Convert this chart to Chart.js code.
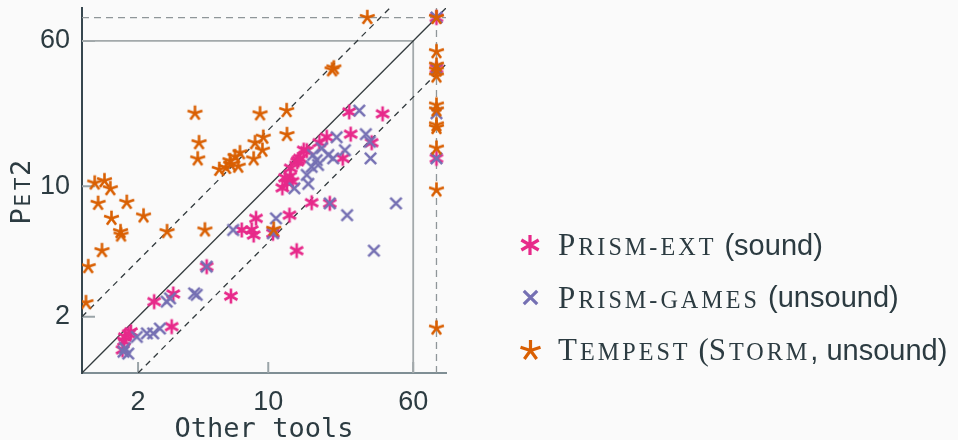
<!DOCTYPE html>
<html>
<head>
<meta charset="utf-8">
<script src="https://cdn.jsdelivr.net/npm/chart.js@4.4.0/dist/chart.umd.min.js"></script>
<style>
    html, body { margin: 0; padding: 0; background: #fafafa; }
    #wrap { position: relative; width: 958px; height: 440px; }
    #legend { position: absolute; left: 518px; top: 219px; color: #2c3b41; }
    .row { display: flex; align-items: center; height: 52.5px; white-space: nowrap; }
    .icon { width: 24px; display: flex; justify-content: center; margin-right: 16px; }
    .sc { font-family: "Liberation Serif", serif; font-size: 31px; letter-spacing: 3px; }
    .sc small { font-size: 0.78em; }
    .rm { font-family: "Liberation Serif", serif; font-size: 31px; }
    .sans { font-family: "Liberation Sans", sans-serif; font-size: 29px; }
</style>
</head>
<body>
<div id="wrap">
    <canvas id="scatter"></canvas>
    <div id="legend">
        <div class="row"><span class="icon" id="icon0"></span><span class="sc">P<small>RISM-EXT</small></span><span class="sans">&nbsp;(sound)</span></div>
        <div class="row"><span class="icon" id="icon1"></span><span class="sc">P<small>RISM-GAMES</small></span><span class="sans">&nbsp;(unsound)</span></div>
        <div class="row"><span class="icon" id="icon2"></span><span class="sc">T<small>EMPEST</small></span><span class="rm">&nbsp;(</span><span class="sc">S<small>TORM</small></span><span class="sans">, unsound)</span></div>
    </div>
</div>
<script>
// seconds, log-log; 80 = timeout
const axisMin = 1;
const axisMax = 90;
const tickValues = [2, 10, 60];
const tickLabels = ['2', '10', '60'];

const prismExtX = [27.2, 41.1, 27.7, 35.9, 20.6, 18.8, 16.1, 25.1, 11.9, 13.5, 13.2, 14.5, 12.6, 13.1, 14.3, 14.8, 15.5, 12.3, 17.1, 21.4, 13.0, 8.6, 14.2, 7.2, 8.35, 8.15, 10.6, 4.67, 6.3, 2.44, 3.09, 3.03, 1.70, 1.83, 1.65, 1.78, 1.68, 80, 80, 80];
const prismExtY = [25.0, 24.4, 19.0, 17.1, 18.3, 17.1, 15.5, 14.1, 9.8, 10.6, 12.5, 13.8, 10.4, 11.3, 13.5, 14.1, 15.6, 11.1, 8.16, 8.1, 7.0, 6.73, 4.52, 5.83, 5.48, 5.83, 5.6, 3.71, 2.58, 2.41, 2.65, 1.77, 1.56, 1.66, 1.33, 1.62, 1.48, 80, 42.7, 14.1];

const prismGamesX = [30.8, 33.4, 35.1, 35.4, 48.5, 26.5, 36.9, 23.3, 25.8, 22.3, 19.4, 17.4, 18.2, 17.1, 16.1, 16.4, 13.8, 21.0, 21.4, 11.0, 10.6, 6.48, 4.67, 4.13, 4.0, 2.85, 2.97, 2.23, 2.41, 2.62, 1.97, 1.70, 1.77, 1.67, 18.5, 80, 80, 80, 80];
const prismGamesY = [25.4, 19.0, 17.3, 14.1, 8.1, 7.0, 4.52, 18.3, 15.6, 14.1, 16.0, 14.7, 13.8, 12.7, 11.5, 10.3, 9.75, 14.7, 8.1, 6.73, 5.6, 5.83, 3.71, 2.62, 2.67, 2.41, 2.51, 1.63, 1.63, 1.73, 1.56, 1.36, 1.27, 1.30, 13.0, 80, 42.7, 24.6, 14.1];

const tempestX = [34, 22, 22.5, 4.04, 9.03, 12.55, 12.6, 4.25, 4.18, 8.49, 9.4, 9.3, 8.35, 5.46, 5.93, 6.28, 6.23, 6.63, 7.05, 6.9, 1.17, 1.32, 1.42, 1.22, 1.74, 1.44, 2.14, 1.61, 1.62, 2.86, 1.28, 1.08, 1.05, 4.57, 10.7, 80, 80, 80, 80, 80, 80, 80, 80, 80, 80, 80, 80];
const tempestY = [80, 42, 43, 24.6, 24.4, 25.4, 18.9, 17.1, 14.0, 17.1, 18.3, 15.6, 14.0, 12.3, 12.6, 13.1, 13.7, 14.4, 15.1, 12.8, 10.4, 10.7, 9.7, 8.1, 8.2, 6.73, 6.93, 5.71, 5.48, 5.71, 4.52, 3.71, 2.38, 5.83, 5.88, 80, 52.5, 44.5, 41.9, 38.9, 27.2, 25.6, 21.3, 20.6, 16.0, 9.55, 1.74];

// guide lines: y = x, y = 2x, y = x/2, 60s box, timeout
const diagX = [1, 90], diagY = [1, 90];
const upperX = [1, 45], upperY = [2, 90];
const lowerX = [2, 90], lowerY = [1, 45];
const boxX = [1, 60, 60], boxY = [60, 60, 1];
const toHX = [1, 90], toHY = [80, 80];
const toVX = [80, 80], toVY = [1, 90];

const textColor = '#2c3b41';
const pink = '#e7298a', purple = '#7570b3', orange = '#d95f02';

const pts = (xs, ys) => xs.map((x, i) => ({ x: x, y: ys[i] }));

function marker(kind, color, r, lw) {
    const size = Math.ceil(2 * r + lw + 2);
    const c = document.createElement('canvas');
    c.width = c.height = size;
    const g = c.getContext('2d');
    g.strokeStyle = color;
    g.lineWidth = lw;
    g.translate(size / 2, size / 2);
    g.beginPath();
    if (kind === 'asterisk') {
        [90, 30, 150].forEach(a => {
            const t = a * Math.PI / 180;
            g.moveTo(r * Math.cos(t), -r * Math.sin(t));
            g.lineTo(-r * Math.cos(t), r * Math.sin(t));
        });
    } else if (kind === 'cross') {
        [45, 135].forEach(a => {
            const t = a * Math.PI / 180;
            g.moveTo(r * Math.cos(t), -r * Math.sin(t));
            g.lineTo(-r * Math.cos(t), r * Math.sin(t));
        });
    } else {
        for (let k = 0; k < 5; k++) {
            const t = (-90 + 72 * k) * Math.PI / 180;
            g.moveTo(0, 0);
            g.lineTo(r * Math.cos(t), r * Math.sin(t));
        }
    }
    g.stroke();
    return c;
}

document.getElementById('icon0').appendChild(marker('asterisk', pink, 10, 3.2));
document.getElementById('icon1').appendChild(marker('cross', purple, 9.5, 3.2));
document.getElementById('icon2').appendChild(marker('star', orange, 10.5, 3.2));

function guide(xs, ys, color, width, dash, order) {
    return {
        type: 'line', data: pts(xs, ys), showLine: true, pointRadius: 0,
        borderColor: color, borderWidth: width, borderDash: dash, fill: false, order: order
    };
}

const extras = {
    id: 'extras',
    beforeDatasetsDraw(chart) {
        const { ctx, chartArea, scales } = chart;
        ctx.save();
        ctx.strokeStyle = '#9aa4a8';
        ctx.lineWidth = 2;
        tickValues.forEach(v => {
            const px = scales.x.getPixelForValue(v);
            const py = scales.y.getPixelForValue(v);
            ctx.beginPath();
            ctx.moveTo(px, chartArea.bottom);
            ctx.lineTo(px, chartArea.bottom - 11);
            ctx.moveTo(chartArea.left, py);
            ctx.lineTo(chartArea.left + 13, py);
            ctx.stroke();
        });
        ctx.restore();
    },
    afterDraw(chart) {
        const { ctx, chartArea } = chart;
        ctx.save();
        ctx.fillStyle = textColor;
        ctx.textBaseline = 'alphabetic';
        ctx.textAlign = 'center';
        ctx.font = '27px "DejaVu Sans Mono"';
        ctx.fillText('Other tools', (chartArea.left + chartArea.right) / 2, 437);

        // Pet2 in typewriter small caps
        ctx.translate(30, (chartArea.top + chartArea.bottom) / 2 + 2);
        ctx.rotate(-Math.PI / 2);
        ctx.textAlign = 'left';
        const chars = [['P', 27], ['E', 21], ['T', 21], ['2', 27]];
        let x = -32;
        chars.forEach(([ch, size]) => {
            ctx.font = size + 'px "DejaVu Sans Mono"';
            const w = ctx.measureText(ch).width;
            ctx.fillText(ch, x + (16.2 - w) / 2, 0);
            x += 16.2;
        });
        ctx.restore();
    }
};

const ctx = document.getElementById('scatter').getContext('2d');
new Chart(ctx, {
    type: 'scatter',
    data: {
        datasets: [
            { label: 'Prism-ext (sound)', data: pts(prismExtX, prismExtY), pointStyle: marker('asterisk', pink, 7.5, 2.6), order: 3 },
            { label: 'Prism-games (unsound)', data: pts(prismGamesX, prismGamesY), pointStyle: marker('cross', purple, 8, 2.5), order: 2 },
            { label: 'Tempest (Storm, unsound)', data: pts(tempestX, tempestY), pointStyle: marker('star', orange, 7.8, 2.6), order: 1 },
            guide(diagX, diagY, '#333b3e', 1.3, [], 10),
            guide(upperX, upperY, '#333b3e', 1.3, [6, 5], 10),
            guide(lowerX, lowerY, '#333b3e', 1.3, [6, 5], 10),
            guide(boxX, boxY, '#a3a9ab', 1.8, [], 11),
            guide(toHX, toHY, '#8f9699', 1.3, [7, 5], 11),
            guide(toVX, toVY, '#8f9699', 1.3, [7, 5], 11)
        ]
    },
    options: {
        responsive: true,
        maintainAspectRatio: false,
        animation: false,
        events: [],
        layout: { padding: { left: 0, top: 8, right: 512, bottom: 0 } },
        plugins: { legend: { display: false }, tooltip: { enabled: false } },
        scales: {
            x: {
                type: 'logarithmic', min: axisMin, max: axisMax,
                afterBuildTicks: s => { s.ticks = tickValues.map(v => ({ value: v })); },
                afterFit: s => { s.height = 67; s.paddingLeft = 0; s.paddingRight = 0; },
                ticks: {
                    autoSkip: false, maxRotation: 0, padding: 13, color: textColor,
                    font: { family: 'Liberation Sans', size: 27 },
                    callback: v => tickLabels[tickValues.indexOf(v)] || ''
                },
                grid: { drawOnChartArea: false, drawTicks: false },
                border: { color: '#7f8e94', width: 2 }
            },
            y: {
                type: 'logarithmic', min: axisMin, max: axisMax,
                afterBuildTicks: s => { s.ticks = tickValues.map(v => ({ value: v })); },
                afterFit: s => { s.width = 82; s.paddingTop = 0; s.paddingBottom = 0; },
                ticks: {
                    autoSkip: false, padding: 12, color: textColor,
                    font: { family: 'Liberation Sans', size: 27 },
                    callback: v => tickLabels[tickValues.indexOf(v)] || ''
                },
                grid: { drawOnChartArea: false, drawTicks: false },
                border: { color: '#37474f', width: 2 }
            }
        }
    },
    plugins: [extras]
});
</script>
</body>
</html>
